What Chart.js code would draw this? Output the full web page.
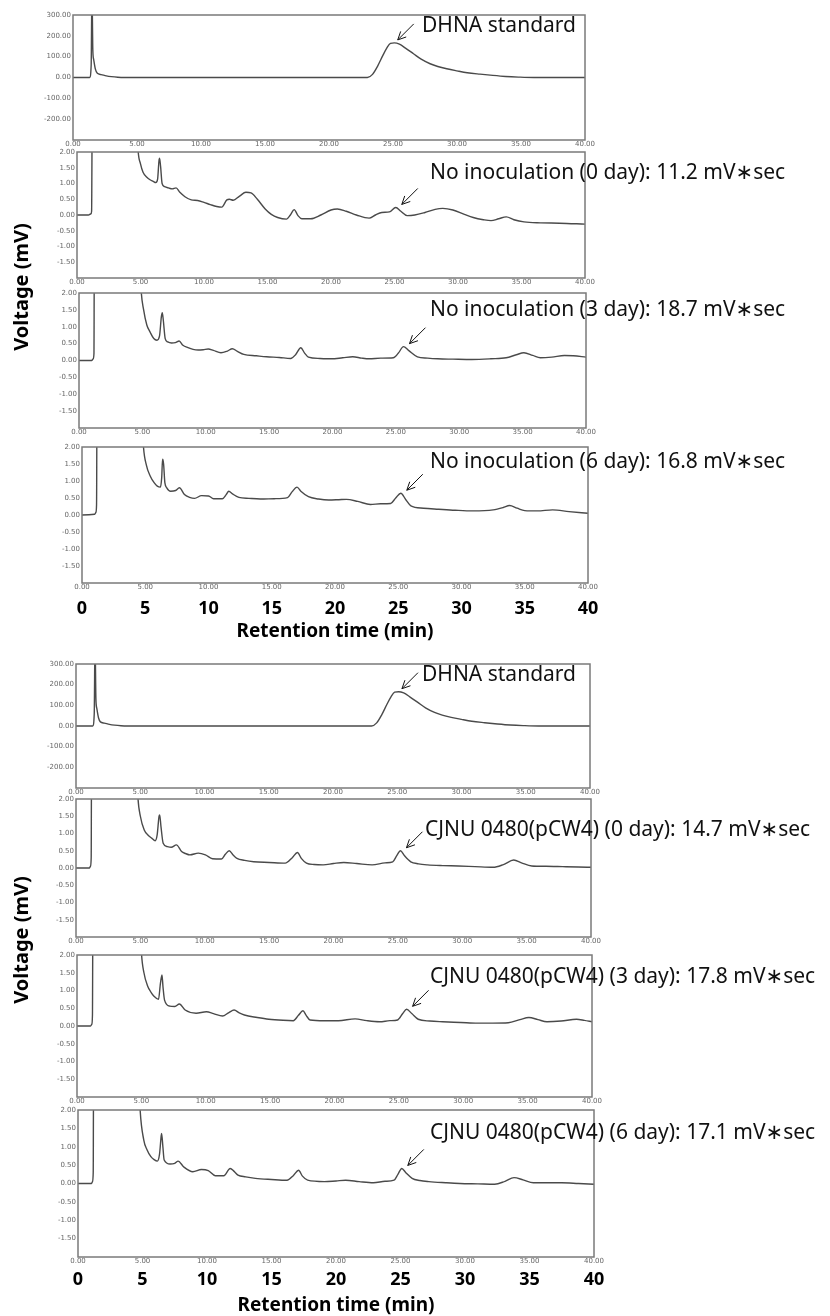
<!DOCTYPE html>
<html>
<head>
<meta charset="utf-8">
<script src="https://cdn.jsdelivr.net/npm/chart.js@4.4.1/dist/chart.umd.min.js"></script>
<style>
  body { margin: 0; background: #fff; }
  #fig { position: relative; width: 830px; height: 1316px; overflow: hidden; background: #fff; font-family: 'Noto Sans', sans-serif; }
  #fig canvas { position: absolute; left: 0; }
  .ylab { position: absolute; width: 220px; text-align: center; font-weight: bold; font-size: 20px; line-height: 24px; color: #000; transform: rotate(-90deg); white-space: nowrap; }
</style>
</head>
<body>
<div id="fig"></div>
<script>
// tick values
const retentionTicks = [0, 5, 10, 15, 20, 25, 30, 35, 40];
const stdVoltTicks = [-300, -200, -100, 0, 100, 200, 300];
const sampleVoltTicks = [-2, -1.5, -1, -0.5, 0, 0.5, 1, 1.5, 2];

// DHNA standard (same trace in both groups)
const stdTime   = [0, 1.3, 1.42, 1.48, 1.55, 1.62, 1.75, 1.9, 2.2, 2.6, 3.0, 3.5, 4.0, 23.0, 23.4, 23.8, 24.2, 24.5, 24.8, 25.1, 25.5, 26.0, 26.6, 27.2, 27.9, 28.5, 29.2, 30.0, 30.8, 31.8, 32.8, 33.8, 34.8, 36.0, 40];
const stdSignal = [0, 0, 60, 420, 130, 85, 40, 20, 14, 8, 4, 1, 0, 0, 15, 55, 105, 140, 164, 166, 160, 140, 114, 88, 66, 53, 42, 32, 23, 16, 10, 5, 2, 0, 0];

// No inoculation, 0 day
const noInoc0Time   = [0, 0.9, 1.1, 1.15, 1.22, 4.5, 4.8, 5.0, 5.2, 5.5, 5.75, 6.0, 6.2, 6.35, 6.45, 6.5, 6.58, 6.7, 6.9, 7.2, 7.5, 7.8, 8.1, 8.5, 9.0, 9.5, 10.0, 10.5, 11.0, 11.4, 11.8, 12.0, 12.3, 12.8, 13.3, 13.7, 14.2, 14.8, 15.3, 15.8, 16.5, 16.8, 17.1, 17.4, 17.7, 18.4, 19.2, 20.0, 20.5, 21.2, 22.0, 23.0, 23.5, 24.0, 24.6, 25.1, 25.5, 26.0, 26.6, 27.4, 28.2, 28.8, 29.6, 30.5, 31.2, 32.0, 32.6, 33.2, 33.8, 34.4, 35.2, 36.5, 38.0, 40];
const noInoc0Signal = [0, 0, 0.04, 0.12, 5, 5, 2.1, 1.62, 1.36, 1.2, 1.12, 1.07, 1.03, 1.15, 1.7, 1.8, 1.55, 1.0, 0.9, 0.86, 0.83, 0.86, 0.72, 0.58, 0.48, 0.46, 0.4, 0.33, 0.27, 0.25, 0.48, 0.5, 0.47, 0.6, 0.72, 0.7, 0.5, 0.2, 0.02, -0.08, -0.13, 0.0, 0.17, -0.02, -0.12, -0.12, 0.0, 0.16, 0.19, 0.12, 0.0, -0.1, 0.0, 0.08, 0.1, 0.24, 0.12, -0.02, 0.0, 0.08, 0.18, 0.21, 0.16, 0.02, -0.08, -0.15, -0.18, -0.12, -0.06, -0.15, -0.22, -0.25, -0.26, -0.29];

// No inoculation, 3 day
const noInoc3Time   = [0, 1.0, 1.12, 1.18, 1.22, 4.6, 4.9, 5.1, 5.35, 5.6, 5.9, 6.15, 6.35, 6.5, 6.57, 6.65, 6.8, 7.0, 7.3, 7.6, 7.9, 8.2, 8.6, 9.0, 9.4, 9.8, 10.2, 10.6, 11.2, 11.7, 12.1, 12.5, 13.0, 14.0, 14.8, 15.8, 16.7, 17.1, 17.5, 17.8, 18.1, 19.0, 19.9, 20.8, 21.6, 22.3, 22.9, 23.8, 24.8, 25.2, 25.6, 26.0, 26.7, 27.5, 28.3, 29.5, 31.0, 32.5, 33.7, 34.5, 35.1, 35.8, 36.4, 37.3, 38.3, 39.0, 40];
const noInoc3Signal = [0, 0, 0.05, 0.2, 5, 5, 2.1, 1.5, 1.05, 0.85, 0.65, 0.6, 0.72, 1.3, 1.42, 1.2, 0.65, 0.55, 0.52, 0.53, 0.58, 0.45, 0.38, 0.33, 0.31, 0.32, 0.34, 0.3, 0.23, 0.28, 0.35, 0.27, 0.18, 0.14, 0.11, 0.09, 0.06, 0.18, 0.38, 0.22, 0.1, 0.06, 0.05, 0.08, 0.11, 0.07, 0.05, 0.07, 0.08, 0.22, 0.41, 0.3, 0.11, 0.07, 0.05, 0.04, 0.03, 0.05, 0.08, 0.17, 0.23, 0.15, 0.08, 0.1, 0.15, 0.14, 0.1];

// No inoculation, 6 day
const noInoc6Time   = [0, 1.0, 1.1, 1.15, 1.2, 4.5, 4.84, 5.1, 5.4, 5.7, 5.95, 6.2, 6.3, 6.37, 6.45, 6.55, 6.7, 7.0, 7.4, 7.7, 8.1, 8.5, 8.9, 9.45, 10.0, 10.4, 11.1, 11.4, 11.6, 11.9, 12.4, 13.2, 14.1, 15.2, 16.25, 16.6, 17.0, 17.3, 17.9, 18.7, 19.5, 20.3, 20.9, 21.8, 22.8, 23.6, 24.4, 24.8, 25.2, 25.6, 26.0, 27.0, 28.2, 29.5, 30.9, 32.5, 33.3, 33.8, 34.4, 35.0, 36.0, 37.2, 38.5, 40];
const noInoc6Signal = [0, 0.02, 0.08, 0.3, 5, 5, 2.1, 1.45, 1.14, 0.95, 0.85, 0.82, 1.1, 1.64, 1.5, 0.95, 0.8, 0.7, 0.72, 0.8, 0.6, 0.52, 0.49, 0.57, 0.56, 0.48, 0.48, 0.6, 0.7, 0.62, 0.52, 0.49, 0.47, 0.48, 0.51, 0.68, 0.82, 0.7, 0.54, 0.47, 0.44, 0.45, 0.46, 0.4, 0.31, 0.33, 0.34, 0.5, 0.64, 0.45, 0.27, 0.2, 0.17, 0.14, 0.12, 0.15, 0.22, 0.28, 0.2, 0.13, 0.12, 0.15, 0.1, 0.05];

// CJNU 0480(pCW4), 0 day
const cjnu0Time   = [0, 1.05, 1.12, 1.18, 1.22, 4.5, 4.8, 5.0, 5.3, 5.6, 5.9, 6.15, 6.3, 6.45, 6.5, 6.6, 6.77, 7.1, 7.4, 7.8, 8.2, 8.5, 8.85, 9.5, 10.05, 10.6, 11.3, 11.6, 11.9, 12.2, 12.5, 13.1, 13.8, 15.0, 16.25, 16.8, 17.2, 17.5, 17.9, 18.5, 19.2, 20.0, 20.8, 21.8, 23.0, 24.0, 24.6, 24.9, 25.2, 25.5, 26.0, 26.6, 27.3, 28.5, 29.7, 31.0, 32.4, 33.2, 34.0, 34.6, 35.4, 36.5, 37.8, 39.0, 40];
const cjnu0Signal = [0, 0, 0.05, 0.3, 5, 5, 2.1, 1.5, 1.1, 0.95, 0.86, 0.79, 0.95, 1.5, 1.54, 1.2, 0.72, 0.62, 0.6, 0.67, 0.48, 0.42, 0.38, 0.43, 0.38, 0.27, 0.26, 0.4, 0.5, 0.38, 0.28, 0.22, 0.18, 0.16, 0.14, 0.3, 0.45, 0.28, 0.14, 0.1, 0.09, 0.13, 0.16, 0.13, 0.09, 0.15, 0.18, 0.35, 0.5, 0.36, 0.18, 0.12, 0.09, 0.07, 0.06, 0.04, 0.02, 0.1, 0.23, 0.15, 0.06, 0.05, 0.04, 0.03, 0.02];

// CJNU 0480(pCW4), 3 day
const cjnu3Time   = [0, 1.05, 1.15, 1.2, 1.25, 4.7, 5.0, 5.2, 5.5, 5.75, 6.0, 6.33, 6.48, 6.6, 6.68, 6.8, 7.2, 7.6, 7.95, 8.4, 9.25, 10.05, 10.6, 11.3, 11.8, 12.2, 12.6, 13.0, 14.0, 14.9, 16.0, 16.8, 17.2, 17.55, 17.8, 18.1, 19.2, 20.3, 21.6, 22.5, 23.5, 24.3, 24.9, 25.3, 25.6, 26.0, 26.5, 27.4, 28.4, 29.8, 31.1, 32.3, 33.5, 34.4, 35.1, 35.8, 36.5, 37.6, 38.8, 39.4, 40];
const cjnu3Signal = [0, 0, 0.05, 0.3, 5, 5, 2.1, 1.5, 1.11, 0.95, 0.83, 0.75, 1.2, 1.44, 1.1, 0.73, 0.56, 0.55, 0.62, 0.45, 0.36, 0.4, 0.35, 0.28, 0.38, 0.45, 0.37, 0.31, 0.24, 0.19, 0.16, 0.15, 0.3, 0.43, 0.3, 0.17, 0.15, 0.15, 0.2, 0.15, 0.12, 0.15, 0.17, 0.35, 0.47, 0.35, 0.19, 0.14, 0.12, 0.1, 0.08, 0.08, 0.09, 0.18, 0.24, 0.18, 0.12, 0.14, 0.19, 0.16, 0.12];

// CJNU 0480(pCW4), 6 day
const cjnu6Time   = [0, 1.05, 1.12, 1.18, 1.22, 4.5, 4.8, 5.1, 5.35, 5.65, 5.9, 6.15, 6.32, 6.45, 6.48, 6.58, 6.68, 7.14, 7.5, 7.76, 8.2, 8.9, 9.57, 10.1, 10.65, 11.3, 11.8, 12.1, 12.4, 13.0, 13.75, 15.0, 16.2, 16.7, 17.1, 17.4, 17.8, 19.1, 20.0, 20.75, 21.8, 22.9, 23.8, 24.5, 24.8, 25.1, 25.4, 25.9, 26.5, 27.2, 28.5, 29.6, 31.0, 32.3, 33.1, 33.8, 34.5, 35.3, 36.5, 37.5, 38.8, 40];
const cjnu6Signal = [0, 0, 0.05, 0.3, 5, 5, 2.1, 1.18, 0.92, 0.73, 0.65, 0.61, 0.8, 1.3, 1.36, 1.0, 0.64, 0.53, 0.55, 0.61, 0.45, 0.32, 0.38, 0.35, 0.21, 0.21, 0.41, 0.33, 0.23, 0.18, 0.14, 0.11, 0.09, 0.22, 0.36, 0.2, 0.09, 0.05, 0.07, 0.09, 0.05, 0.02, 0.06, 0.09, 0.25, 0.41, 0.3, 0.14, 0.08, 0.05, 0.02, 0.0, -0.01, -0.02, 0.06, 0.16, 0.1, 0.02, 0.02, 0.02, 0.0, -0.02];

// annotations: label text and the DHNA peak the arrow points at
const panelLabels = [
  'DHNA standard',
  'No inoculation (0 day): 11.2 mV\u2217sec',
  'No inoculation (3 day): 18.7 mV\u2217sec',
  'No inoculation (6 day): 16.8 mV\u2217sec',
  'DHNA standard',
  'CJNU 0480(pCW4) (0 day): 14.7 mV\u2217sec',
  'CJNU 0480(pCW4) (3 day): 17.8 mV\u2217sec',
  'CJNU 0480(pCW4) (6 day): 17.1 mV\u2217sec'
];
const peakTimes  = [24.9, 25.1, 25.6, 25.2, 24.9, 25.2, 25.6, 25.1];
const peakValues = [166, 0.24, 0.41, 0.64, 166, 0.5, 0.47, 0.41];

const axisTitleX = 'Retention time (min)';
const axisTitleY = 'Voltage (mV)';

// layout of each panel on the page: [left, top, right, bottom], label offset inside plot
const panels = [
  { rect: [73, 15, 585, 140],    time: stdTime,     signal: stdSignal,     ticks: stdVoltTicks,    textAt: [349, 11] },
  { rect: [77, 152, 585, 278],   time: noInoc0Time, signal: noInoc0Signal, ticks: sampleVoltTicks, textAt: [353, 21] },
  { rect: [79, 293, 586, 428],   time: noInoc3Time, signal: noInoc3Signal, ticks: sampleVoltTicks, textAt: [351, 17] },
  { rect: [82, 447, 588, 583],   time: noInoc6Time, signal: noInoc6Signal, ticks: sampleVoltTicks, textAt: [348, 15], bottomAxis: true, bigPad: 5 },
  { rect: [76, 664, 590, 788],   time: stdTime,     signal: stdSignal,     ticks: stdVoltTicks,    textAt: [346, 11] },
  { rect: [76, 799, 591, 937],   time: cjnu0Time,   signal: cjnu0Signal,   ticks: sampleVoltTicks, textAt: [349, 31] },
  { rect: [77, 955, 592, 1097],  time: cjnu3Time,   signal: cjnu3Signal,   ticks: sampleVoltTicks, textAt: [353, 22] },
  { rect: [78, 1110, 594, 1257], time: cjnu6Time,   signal: cjnu6Signal,   ticks: sampleVoltTicks, textAt: [352, 23], bottomAxis: true, bigPad: 2 }
];

const fig = document.getElementById('fig');
const smallFont = { size: 7, family: "'DejaVu Sans', sans-serif" };

const framePlugin = {
  id: 'frame',
  afterDatasetsDraw(chart) {
    const a = chart.chartArea;
    const ctx = chart.ctx;
    ctx.save();
    ctx.strokeStyle = '#7a7a7a';
    ctx.lineWidth = 1.5;
    ctx.strokeRect(a.left, a.top, a.right - a.left, a.bottom - a.top);
    ctx.restore();
  }
};

const notePlugin = {
  id: 'note',
  afterDraw(chart, args, opts) {
    const ctx = chart.ctx;
    const a = chart.chartArea;
    const xs = chart.scales.x, ys = chart.scales.y;
    const hx = xs.getPixelForValue(opts.peakT) + 6;
    const hy = ys.getPixelForValue(opts.peakV) - 3;
    const tx = hx + 16, ty = hy - 16;
    ctx.save();
    ctx.strokeStyle = '#111';
    ctx.lineWidth = 1;
    ctx.beginPath();
    ctx.moveTo(tx, ty);
    ctx.lineTo(hx, hy);
    const ang = Math.atan2(ty - hy, tx - hx);
    [0.45, -0.45].forEach(d => {
      ctx.moveTo(hx, hy);
      ctx.lineTo(hx + 9 * Math.cos(ang + d), hy + 9 * Math.sin(ang + d));
    });
    ctx.stroke();
    ctx.fillStyle = '#111';
    ctx.font = "21px 'Noto Sans', 'DejaVu Sans', sans-serif";
    ctx.textBaseline = 'middle';
    ctx.textAlign = 'left';
    ctx.fillText(opts.text, a.left + opts.at[0], a.top + opts.at[1]);
    ctx.restore();
  }
};

panels.forEach((p, i) => {
  const [l, t, r, b] = p.rect;
  const padTop = 8;
  const xH = 10;
  const extra = p.bottomAxis ? 54 : 0;
  const h = (b - t) + padTop + xH + extra + 2;
  const canvas = document.createElement('canvas');
  canvas.width = 830;
  canvas.height = h;
  canvas.style.top = (t - padTop) + 'px';
  canvas.style.width = '830px';
  canvas.style.height = h + 'px';
  fig.appendChild(canvas);

  const yMin = p.ticks[0], yMax = p.ticks[p.ticks.length - 1];
  const scales = {
    x: {
      type: 'linear', min: 0, max: 40, position: 'bottom', weight: 0,
      grid: { display: false, drawTicks: false }, border: { display: false },
      afterBuildTicks: s => { s.ticks = retentionTicks.map(v => ({ value: v })); },
      afterFit: s => { s.height = xH; },
      ticks: { autoSkip: false, maxRotation: 0, padding: 0, color: '#666', font: smallFont,
               callback: v => v.toFixed(2) }
    },
    y: {
      type: 'linear', min: yMin, max: yMax,
      grid: { display: false, drawTicks: false }, border: { display: false },
      afterBuildTicks: s => { s.ticks = p.ticks.map(v => ({ value: v })); },
      afterFit: s => { s.width = l; },
      ticks: { autoSkip: false, padding: 2, color: '#666', font: smallFont,
               callback: v => v === yMin ? '' : v.toFixed(2) }
    }
  };
  if (p.bottomAxis) {
    scales.x2 = {
      type: 'linear', min: 0, max: 40, position: 'bottom', weight: 1,
      grid: { display: false, drawTicks: false }, border: { display: false },
      afterBuildTicks: s => { s.ticks = retentionTicks.map(v => ({ value: v })); },
      afterFit: s => { s.height = extra; },
      ticks: { autoSkip: false, maxRotation: 0, padding: p.bigPad, color: '#000',
               font: { size: 18, weight: 'bold', family: "'Noto Sans', sans-serif" },
               callback: v => String(v) },
      title: { display: true, text: axisTitleX, color: '#000', padding: { top: 0, bottom: 4 },
               font: { size: 19, weight: 'bold', family: "'Noto Sans', sans-serif" } }
    };
  }

  new Chart(canvas, {
    type: 'line',
    data: {
      datasets: [{
        data: p.time.map((x, k) => ({ x: x, y: p.signal[k] })),
        borderColor: '#4a4a4a',
        borderWidth: 1.4,
        pointRadius: 0,
        cubicInterpolationMode: 'monotone',
        fill: false
      }]
    },
    options: {
      responsive: false,
      animation: false,
      events: [],
      layout: { padding: { top: padTop, left: 0, right: 830 - r, bottom: 2 } },
      plugins: {
        legend: { display: false },
        tooltip: { enabled: false },
        note: { text: panelLabels[i], peakT: peakTimes[i], peakV: peakValues[i], at: p.textAt }
      },
      scales: scales
    },
    plugins: [framePlugin, notePlugin]
  });
});

// shared y-axis titles, one per group
[287, 940].forEach(cy => {
  const d = document.createElement('div');
  d.className = 'ylab';
  d.textContent = axisTitleY;
  d.style.left = (21 - 110) + 'px';
  d.style.top = (cy - 12) + 'px';
  fig.appendChild(d);
});
</script>
</body>
</html>
